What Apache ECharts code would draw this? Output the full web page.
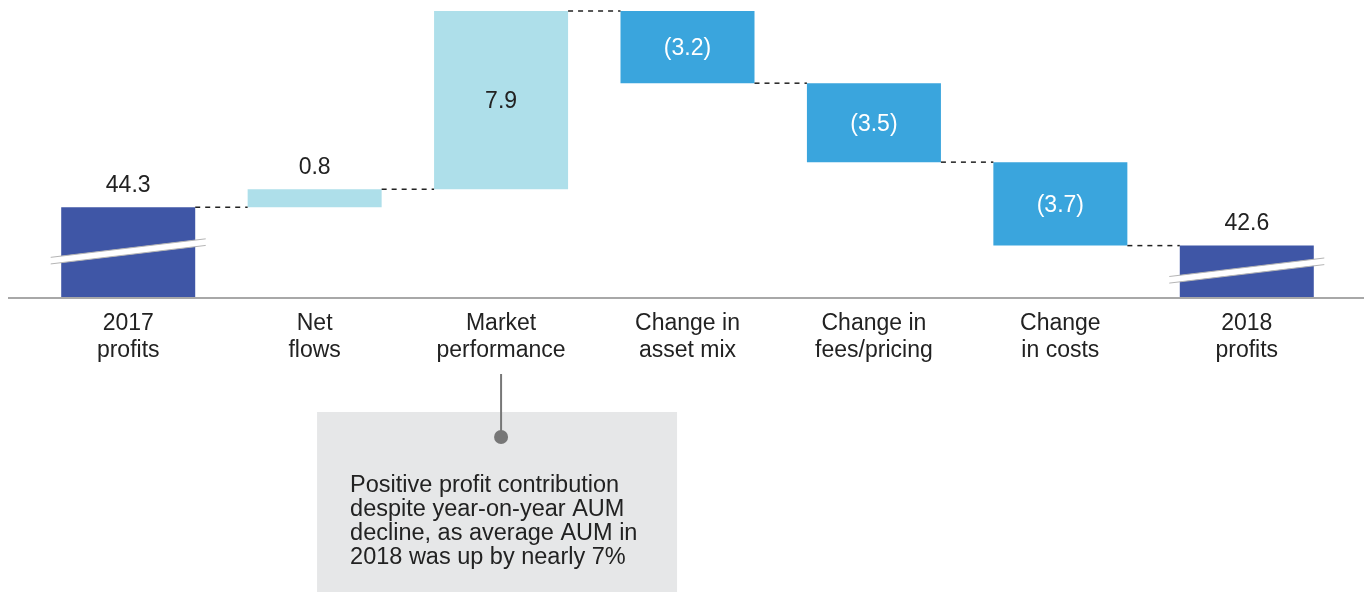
<!DOCTYPE html>
<html>
<head>
<meta charset="utf-8">
<script src="https://cdn.jsdelivr.net/npm/echarts@6/dist/echarts.min.js"></script>
<style>
  html, body { margin: 0; padding: 0; background: #ffffff; }
  #chart { width: 1370px; height: 592px; }
</style>
</head>
<body>
<div id="chart"></div>
<script>
// ---- data ----
const categories = ['2017\nprofits', 'Net\nflows', 'Market\nperformance', 'Change in\nasset mix', 'Change in\nfees/pricing', 'Change\nin costs', '2018\nprofits'];
const deltas = [44.3, 0.8, 7.9, -3.2, -3.5, -3.7, 42.6];
const isTotal = [true, false, false, false, false, false, true];
const valueLabels = ['44.3', '0.8', '7.9', '(3.2)', '(3.5)', '(3.7)', '42.6'];
const noteText = 'Positive profit contribution\ndespite year-on-year AUM\ndecline, as average AUM in\n2018 was up by nearly 7%';
const noteCategory = 2;

// ---- styling ----
const FONT = 'Liberation Sans';
const TEXT = '#222222';
const C_TOTAL = '#3F56A6';
const C_POS = '#AEDFEA';
const C_NEG = '#3AA5DD';
const Y_MIN = 40.3, Y_MAX = 53.0;
const BAR_W = 134;

// running totals
const lows = [], highs = [], ends = [];
let run = 0;
deltas.forEach((d, i) => {
  if (isTotal[i]) { lows.push(0); highs.push(d); run = d; }
  else { const s = run; run = s + d; lows.push(Math.min(s, run)); highs.push(Math.max(s, run)); }
  ends.push(run);
});

const baseData = lows.map((l, i) => isTotal[i] ? 0 : l);
const valData = highs.map((h, i) => {
  const v = +(h - baseData[i]).toFixed(4);
  const color = isTotal[i] ? C_TOTAL : (deltas[i] > 0 ? C_POS : C_NEG);
  const small = (highs[i] - lows[i]) < 1.5 || isTotal[i];
  return {
    value: v,
    itemStyle: { color },
    label: {
      position: small ? 'top' : 'inside',
      color: (!isTotal[i] && deltas[i] < 0) ? '#ffffff' : TEXT
    }
  };
});

const chart = echarts.init(document.getElementById('chart'), null, { renderer: 'canvas' });

const option = {
  animation: false,
  backgroundColor: '#ffffff',
  grid: { left: 35, right: 30, top: 11, bottom: 294.5 },
  xAxis: {
    type: 'category',
    data: categories,
    axisLine: { show: false },
    axisTick: { show: false },
    axisLabel: { interval: 0, fontFamily: FONT, fontSize: 23, lineHeight: 27, color: TEXT, margin: 13 }
  },
  yAxis: {
    type: 'value', min: Y_MIN, max: Y_MAX, show: false,
    splitLine: { show: false }
  },
  series: [
    {
      type: 'bar', stack: 'w', data: baseData, barWidth: BAR_W,
      itemStyle: { color: 'rgba(0,0,0,0)' }, silent: true
    },
    {
      type: 'bar', stack: 'w', data: valData, barWidth: BAR_W,
      label: {
        show: true, fontFamily: FONT, fontSize: 23, distance: 12, offset: [0, 2],
        formatter: p => valueLabels[p.dataIndex]
      }
    },
    {
      type: 'custom', z: 5,
      data: categories.map((c, i) => [i, ends[i]]),
      renderItem: function (params, api) {
        const i = api.value(0);
        const children = [];
        const top = api.coord([i, highs[i]]);
        const cx = top[0];
        // connector to next bar
        if (i < categories.length - 1) {
          const p = api.coord([i, ends[i]]);
          const nx = api.coord([i + 1, ends[i]])[0];
          children.push({
            type: 'line',
            shape: { x1: cx + BAR_W / 2, y1: p[1], x2: nx - BAR_W / 2, y2: p[1] },
            style: { stroke: '#222', lineWidth: 1.5, lineDash: [5, 5] }
          });
        }
        // axis break mark on total bars
        if (isTotal[i]) {
          const bottomY = api.coord([i, Y_MIN])[1];
          const cy = (top[1] + bottomY) / 2 - 1;
          const hw = 77.5, dy = 9.25, th = 3.3;
          children.push({
            type: 'polygon',
            shape: { points: [[cx - hw, cy + dy - th], [cx + hw, cy - dy - th], [cx + hw, cy - dy + th], [cx - hw, cy + dy + th]] },
            style: { fill: '#ffffff' }
          });
          children.push({
            type: 'line', shape: { x1: cx - hw, y1: cy + dy - th, x2: cx + hw, y2: cy - dy - th },
            style: { stroke: '#b5b5b5', lineWidth: 1 }
          });
          children.push({
            type: 'line', shape: { x1: cx - hw, y1: cy + dy + th, x2: cx + hw, y2: cy - dy + th },
            style: { stroke: '#b5b5b5', lineWidth: 1 }
          });
        }
        return { type: 'group', children };
      }
    }
  ]
};
chart.setOption(option);

// baseline and annotation
const baseY = chart.convertToPixel({ yAxisIndex: 0 }, Y_MIN);
const ax = chart.convertToPixel({ xAxisIndex: 0 }, categories[noteCategory]);
chart.setOption({
  graphic: [
    { type: 'line', z: 10, shape: { x1: 8, y1: baseY + 0.5, x2: 1364, y2: baseY + 0.5 }, style: { stroke: '#a8a8a8', lineWidth: 2 } },
    { type: 'rect', z: 1, shape: { x: ax - 184, y: 412, width: 360, height: 180 }, style: { fill: '#E6E7E8' } },
    { type: 'line', z: 2, shape: { x1: ax, y1: 374, x2: ax, y2: 437 }, style: { stroke: '#777777', lineWidth: 2 } },
    { type: 'circle', z: 2, shape: { cx: ax, cy: 437, r: 7 }, style: { fill: '#777777' } },
    { type: 'text', z: 2, x: ax - 151, y: 474, style: { text: noteText, font: '23.5px "Liberation Sans"', fill: TEXT, lineHeight: 24 } }
  ]
});
</script>
</body>
</html>
